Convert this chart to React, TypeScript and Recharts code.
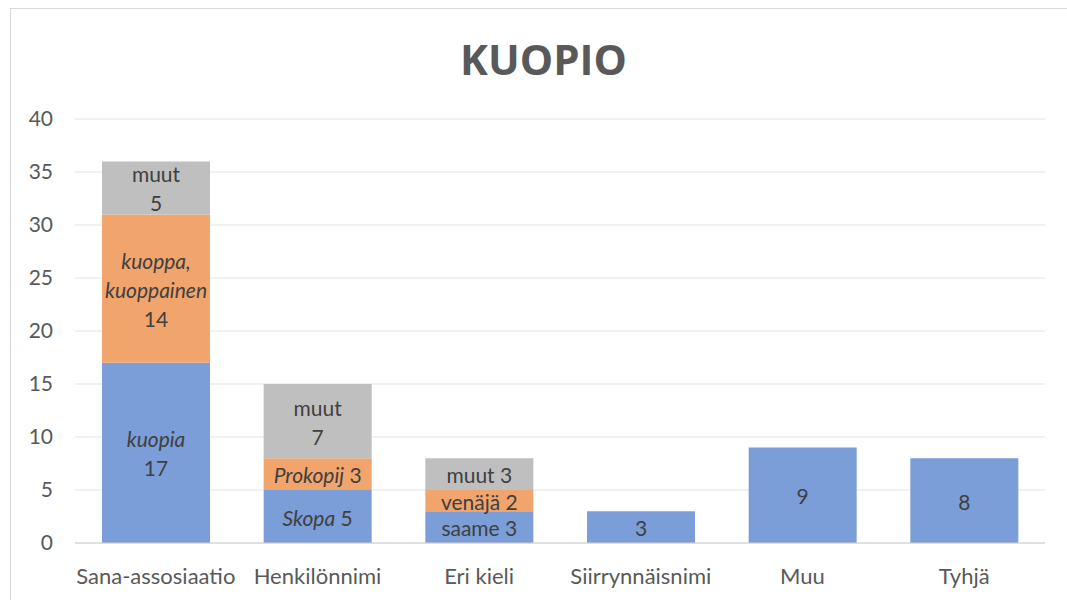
import React from 'react'
import { BarChart, Bar, XAxis, YAxis, CartesianGrid, LabelList } from 'recharts'

const categories = ['Sana-assosiaatio', 'Henkilönnimi', 'Eri kieli', 'Siirrynnäisnimi', 'Muu', 'Tyhjä']
const blueValues = [17, 5, 3, 3, 9, 8]
const orangeValues = [14, 3, 2, 0, 0, 0]
const grayValues = [5, 7, 3, 0, 0, 0]

// "|" = new line, *text* = italic
const blueLabels = ['*kuopia*|17', '*Skopa* 5', 'saame 3', '3', '9', '8']
const orangeLabels = ['*kuoppa,*|*kuoppainen*|14', '*Prokopij* 3', 'venäjä 2', '', '', '']
const grayLabels = ['muut|5', 'muut|7', 'muut 3', '', '', '']

const yTicks = [0, 5, 10, 15, 20, 25, 30, 35, 40]

const data = categories.map((name, i) => ({
  name,
  blue: blueValues[i],
  orange: orangeValues[i] || null,
  gray: grayValues[i] || null,
}))

const FONT = "Lato, 'Open Sans', sans-serif"
const LINE_H = 29

function makeLabel(texts: string[]) {
  return function SegmentLabel(props: any) {
    const { x, y, width, height, index } = props
    const txt = texts[index]
    if (!txt) return null
    const lines = txt.split('|')
    const cx = x + width / 2
    const cy = y + height / 2
    const startY = cy - ((lines.length - 1) * LINE_H) / 2
    return (
      <text
        x={cx}
        y={startY}
        textAnchor="middle"
        dominantBaseline="central"
        fill="#404040"
        fontSize={21}
        fontFamily={FONT}
      >
        {lines.map((line, li) => {
          const parts = line.split('*')
          return (
            <tspan key={li} x={cx} y={startY + li * LINE_H}>
              {parts.map((p, pi) =>
                p ? (
                  <tspan key={pi} fontStyle={pi % 2 === 1 ? 'italic' : 'normal'}>
                    {p}
                  </tspan>
                ) : null
              )}
            </tspan>
          )
        })}
      </text>
    )
  }
}

export default function App() {
  return (
    <div style={{ position: 'absolute', left: 0, top: 0, width: 1067, height: 600, background: '#fff' }}>
      <style>{'body{margin:0;overflow:hidden}'}</style>
      <div
        style={{
          position: 'absolute',
          left: 10,
          top: 8,
          width: 1070,
          height: 600,
          borderLeft: '1px solid #d9d9d9',
          borderTop: '1px solid #d9d9d9',
        }}
      />
      <div
        style={{
          position: 'absolute',
          left: 0,
          top: 30,
          width: 1087,
          textAlign: 'center',
          fontFamily: "'Open Sans', sans-serif",
          fontWeight: 700,
          fontSize: 42,
          color: '#595959',
        }}
      >
        KUOPIO
      </div>
      <div style={{ position: 'absolute', left: 0, top: 0 }}>
        <BarChart
          width={1067}
          height={600}
          data={data}
          margin={{ top: 119, right: 22, bottom: 17, left: 0 }}
        >
          <CartesianGrid vertical={false} stroke="#e3e3e3" />
          <XAxis
            dataKey="name"
            height={40}
            axisLine={{ stroke: '#d0d0d0' }}
            tickLine={false}
            tickMargin={19}
            tick={{ fill: '#595959', fontSize: 22, fontFamily: FONT }}
            interval={0}
          />
          <YAxis
            width={75}
            domain={[0, 40]}
            ticks={yTicks}
            axisLine={false}
            tickLine={false}
            tickMargin={16}
            tick={{ fill: '#595959', fontSize: 21, fontFamily: FONT }}
          />
          <Bar dataKey="blue" stackId="a" fill="#7b9dd8" barSize={108} isAnimationActive={false}>
            <LabelList dataKey="blue" content={makeLabel(blueLabels)} />
          </Bar>
          <Bar dataKey="orange" stackId="a" fill="#f1a46c" barSize={108} isAnimationActive={false}>
            <LabelList dataKey="orange" content={makeLabel(orangeLabels)} />
          </Bar>
          <Bar dataKey="gray" stackId="a" fill="#bfbfbf" barSize={108} isAnimationActive={false}>
            <LabelList dataKey="gray" content={makeLabel(grayLabels)} />
          </Bar>
        </BarChart>
      </div>
    </div>
  )
}
